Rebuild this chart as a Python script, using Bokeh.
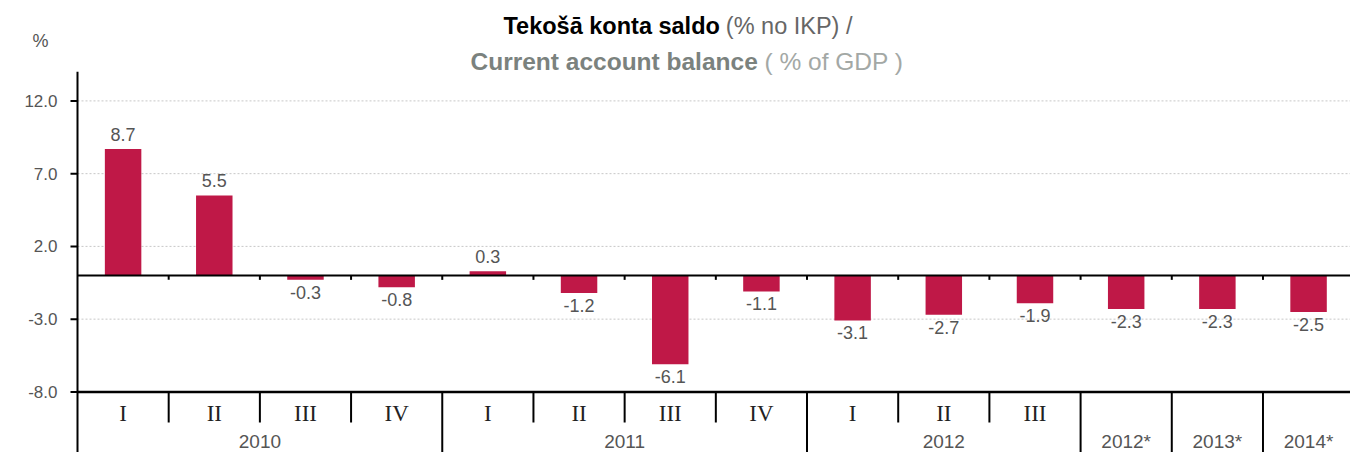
from bokeh.plotting import figure
from bokeh.models import Range1d, ColumnDataSource
from bokeh.core.properties import value
from bokeh.embed import file_html
from bokeh.resources import INLINE

# ---- data ----
quarters = ["I", "II", "III", "IV", "I", "II", "III", "IV", "I", "II", "III", "", "", ""]
values = [8.7, 5.5, -0.3, -0.8, 0.3, -1.2, -6.1, -1.1, -3.1, -2.7, -1.9, -2.3, -2.3, -2.5]
group_labels = ["2010", "2011", "2012", "2012*", "2013*", "2014*"]
group_sizes = [4, 4, 3, 1, 1, 1]
y_ticks = [12.0, 7.0, 2.0, -3.0, -8.0]
y_tick_labels = ["12.0", "7.0", "2.0", "-3.0", "-8.0"]

SANS = "Liberation Sans"
SERIF = "Liberation Serif"
BAR = "#BF1847"
GRAY = "#555555"

W, H = 1350, 452
PX_X = 91.19          # pixels per category
PX_Y = 14.55          # pixels per percentage point
X0 = -0.5 - 77 / PX_X  # data x at left canvas edge
Y_TOP = 275 / PX_Y     # data y at top canvas edge


def dx(px):
    return X0 + px / PX_X


def dy(py):
    return Y_TOP - py / PX_Y


n = len(values)
xs = list(range(n))
x_left = -0.5
x_right = X0 + W / PX_X
y_bottom = dy(H)
y_axis_top = 14.0

p = figure(width=W, height=H,
           x_range=Range1d(X0, x_right), y_range=Range1d(y_bottom, Y_TOP),
           output_backend="svg", toolbar_location=None,
           x_axis_location=None, y_axis_location=None,
           min_border_left=0, min_border_right=0,
           min_border_top=0, min_border_bottom=0)
p.outline_line_color = None
p.grid.visible = False

# dotted grid lines
gt = [t for t in y_ticks if t != -8.0]
p.segment(x0=[x_left] * len(gt), y0=gt, x1=[x_right] * len(gt), y1=gt,
          line_color="#c8c8c8", line_dash="2 2", line_width=1)

# bars
p.vbar(x=xs, top=values, bottom=0, width=0.4, fill_color=BAR, line_color=None)

# zero line and bottom line
p.segment(x0=[x_left], y0=[0], x1=[x_right], y1=[0], line_color="black", line_width=2)
p.segment(x0=[x_left], y0=[-8], x1=[x_right], y1=[-8], line_color="black", line_width=2.5)

# y axis line, ticks and labels
p.segment(x0=[x_left], y0=[y_bottom], x1=[x_left], y1=[y_axis_top], line_color="black", line_width=2)
tick_len = 7 / PX_X
p.segment(x0=[x_left - tick_len] * len(y_ticks), y0=y_ticks, x1=[x_left] * len(y_ticks), y1=y_ticks,
          line_color="black", line_width=2)
p.text(x=[dx(57)] * len(y_ticks), y=y_ticks, text=y_tick_labels, text_align="right",
       text_baseline="middle", text_font=value(SANS), text_font_size="17px", text_color=GRAY)

# small ticks on zero line
bounds = [i + 0.5 for i in range(n - 1)]
p.segment(x0=bounds, y0=[0] * len(bounds), x1=bounds, y1=[-0.3] * len(bounds),
          line_color="black", line_width=2)

# separators in category area
group_ends = []
acc = 0
for s in group_sizes:
    acc += s
    group_ends.append(acc - 0.5)
long_b = [b for b in bounds if b in group_ends]
short_b = [b for b in bounds if b not in group_ends]
p.segment(x0=short_b, y0=[-8] * len(short_b), x1=short_b, y1=[dy(422)] * len(short_b),
          line_color="black", line_width=2)
p.segment(x0=long_b, y0=[-8] * len(long_b), x1=long_b, y1=[y_bottom] * len(long_b),
          line_color="black", line_width=2)

# value labels
pos = ColumnDataSource(dict(x=[x for x, v in zip(xs, values) if v >= 0],
                            y=[v + 0.55 for v in values if v >= 0],
                            t=["%.1f" % v for v in values if v >= 0]))
neg = ColumnDataSource(dict(x=[x for x, v in zip(xs, values) if v < 0],
                            y=[v - 0.4 for v in values if v < 0],
                            t=["%.1f" % v for v in values if v < 0]))
p.text(x="x", y="y", text="t", source=pos, text_align="center", text_baseline="bottom",
       text_font=value(SANS), text_font_size="18px", text_color=GRAY)
p.text(x="x", y="y", text="t", source=neg, text_align="center", text_baseline="top",
       text_font=value(SANS), text_font_size="18px", text_color=GRAY)

# quarter labels
p.text(x=xs, y=[dy(413)] * n, text=quarters, text_align="center", text_baseline="middle",
       text_font=value(SERIF), text_font_size="23px", text_color="#222222")

# group labels
centers = []
start = 0
for s in group_sizes:
    centers.append(start + (s - 1) / 2)
    start += s
p.text(x=centers, y=[dy(441)] * len(centers), text=group_labels, text_align="center",
       text_baseline="middle", text_font=value(SANS), text_font_size="19px", text_color=GRAY)

# "%" unit label
p.text(x=[dx(40)], y=[dy(40)], text=["%"], text_align="center", text_baseline="middle",
       text_font=value(SANS), text_font_size="18px", text_color=GRAY)

# title
p.text(x=[dx(503)], y=[dy(25)], text=["Tekošā konta saldo"], text_align="left",
       text_baseline="middle", text_font=value(SANS), text_font_size="23.5px",
       text_font_style="bold", text_color="black")
p.text(x=[dx(852)], y=[dy(25)], text=["(% no IKP) /"], text_align="right",
       text_baseline="middle", text_font=value(SANS), text_font_size="23.5px",
       text_color="#666666")
p.text(x=[dx(470)], y=[dy(61)], text=["Current account balance"], text_align="left",
       text_baseline="middle", text_font=value(SANS), text_font_size="24.5px",
       text_font_style="bold", text_color="#7B827E")
p.text(x=[dx(764)], y=[dy(61)], text=["( % of GDP )"], text_align="left",
       text_baseline="middle", text_font=value(SANS), text_font_size="24.5px",
       text_color="#A3A8A5")

open("out.html", "w").write(file_html(p, INLINE))
